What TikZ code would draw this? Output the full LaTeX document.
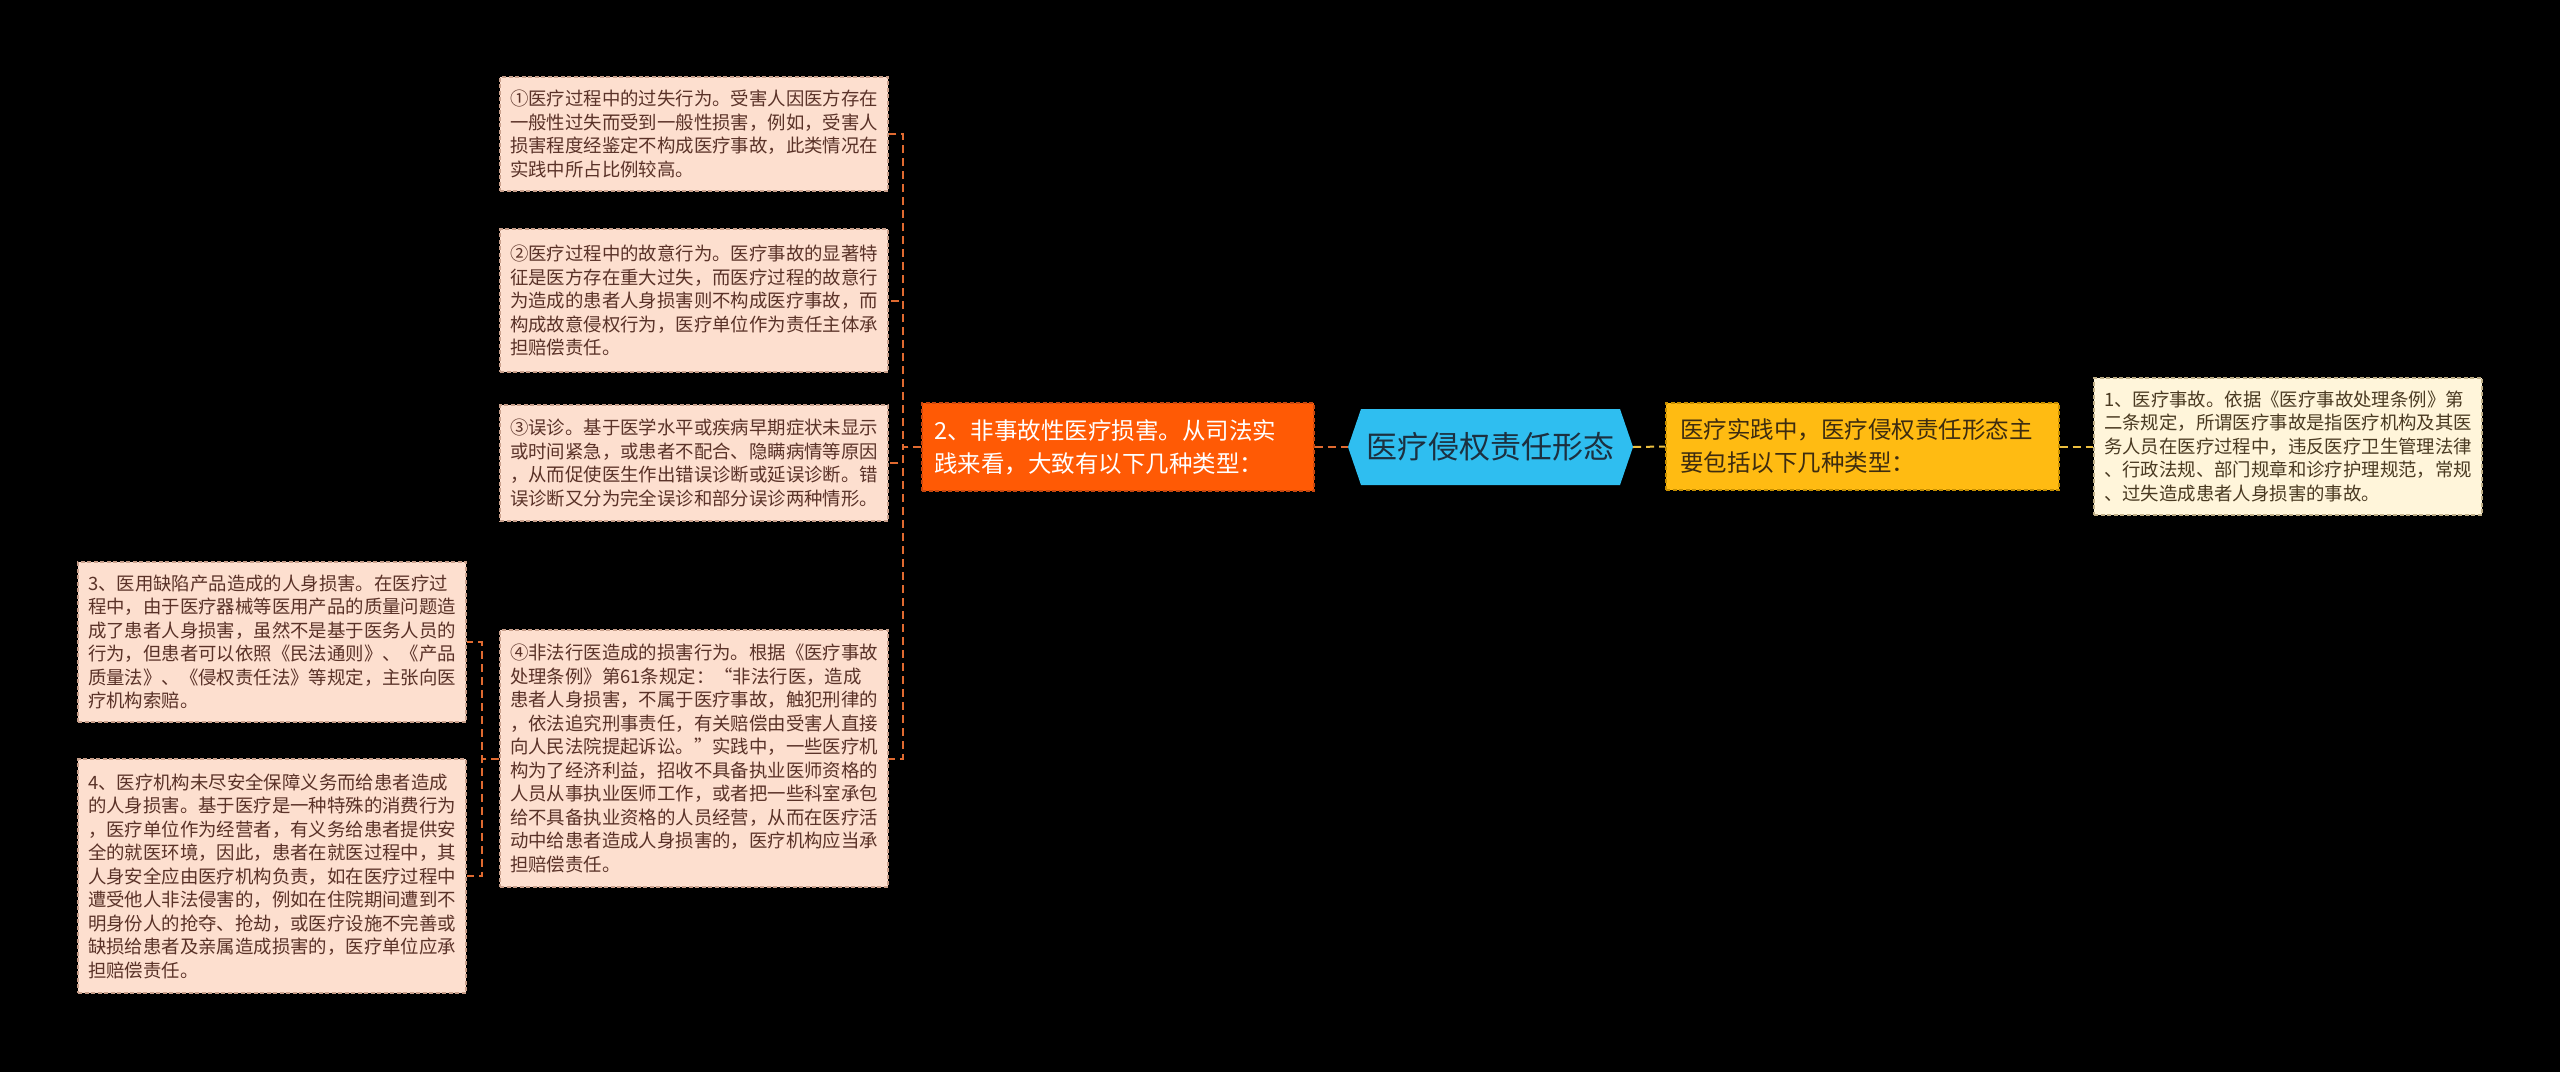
\documentclass[tikz,border=0pt]{standalone}
\usepackage{fontspec}
\setmainfont{Noto Sans CJK SC}
\definecolor{leaffill}{HTML}{FDDFCF}
\definecolor{leafline}{HTML}{C9A08C}
\definecolor{leaftext}{HTML}{5A3228}
\definecolor{orangefill}{HTML}{FF5A05}
\definecolor{orangeline}{HTML}{C84810}
\definecolor{hexfill}{HTML}{2FBEF0}
\definecolor{hextext}{HTML}{1C3040}
\definecolor{yellowfill}{HTML}{FFBB12}
\definecolor{yellowline}{HTML}{C89000}
\definecolor{yellowtext}{HTML}{3D2C10}
\definecolor{creamfill}{HTML}{FFF5DA}
\definecolor{creamline}{HTML}{BFAF88}
\definecolor{creamtext}{HTML}{4A3A22}
\definecolor{oconncol}{HTML}{E06A30}
\definecolor{yconncol}{HTML}{EDC040}
\begin{document}
\begin{tikzpicture}[x=1pt,y=-1pt,
  leaf/.style={draw=leafline, fill=leaffill, dash pattern=on 4pt off 2.5pt, line width=1.3pt,
    text=leaftext, font=\fontsize{18.4}{23.5}\selectfont, align=left, text width=368pt,
    inner xsep=10pt, inner ysep=0pt, minimum width=388pt},
  cream/.style={leaf, draw=creamline, fill=creamfill, text=creamtext},
  orangebox/.style={draw=orangeline, fill=orangefill, dash pattern=on 4pt off 2.5pt, line width=1.3pt,
    text=white, font=\fontsize{23.5}{33}\selectfont, align=left, text width=368pt,
    inner xsep=12pt, inner ysep=0pt, minimum height=88pt},
  yellowbox/.style={draw=yellowline, fill=yellowfill, dash pattern=on 4pt off 2.5pt, line width=1.3pt,
    text=yellowtext, font=\fontsize{23.5}{33}\selectfont, align=left, text width=365pt,
    inner xsep=14pt, inner ysep=0pt, minimum height=87pt},
  hexbox/.style={draw=none, minimum width=285pt, minimum height=76pt, inner sep=0pt,
    text=hextext, font=\fontsize{31}{36}\selectfont,
    path picture={\fill[hexfill] (path picture bounding box.west)
      -- ([xshift=13pt]path picture bounding box.north west)
      -- ([xshift=-13pt]path picture bounding box.north east)
      -- (path picture bounding box.east)
      -- ([xshift=-13pt]path picture bounding box.south east)
      -- ([xshift=13pt]path picture bounding box.south west) -- cycle;}},
  oconn/.style={draw=oconncol, line width=2pt, dash pattern=on 8pt off 5pt},
  yconn/.style={draw=yconncol, line width=2pt, dash pattern=on 8pt off 5pt}
]
\fill[black] (0,0) rectangle (2560,1072);
\useasboundingbox (0,0) rectangle (2560,1072);

% centre and main branches
\node[hexbox] (hex) at (1490.5,447) {医疗侵权责任形态};
\node[orangebox] (orange) at (1118,447) {2、非事故性医疗损害。从司法实\\践来看，大致有以下几种类型：};
\node[yellowbox] (yellow) at (1862.5,446.5) {医疗实践中，医疗侵权责任形态主\\要包括以下几种类型：};

% right leaf
\node[cream, minimum height=137pt] (r1) at (2288,446.5) {1、医疗事故。依据《医疗事故处理条例》第\\二条规定，所谓医疗事故是指医疗机构及其医\\务人员在医疗过程中，违反医疗卫生管理法律\\、行政法规、部门规章和诊疗护理规范，常规\\、过失造成患者人身损害的事故。};

% middle leaves
\node[leaf, minimum height=114pt] (b1) at (694,134) {①医疗过程中的过失行为。受害人因医方存在\\一般性过失而受到一般性损害，例如，受害人\\损害程度经鉴定不构成医疗事故，此类情况在\\实践中所占比例较高。};
\node[leaf, minimum height=143pt] (b2) at (694,300.5) {②医疗过程中的故意行为。医疗事故的显著特\\征是医方存在重大过失，而医疗过程的故意行\\为造成的患者人身损害则不构成医疗事故，而\\构成故意侵权行为，医疗单位作为责任主体承\\担赔偿责任。};
\node[leaf, minimum height=116pt] (b3) at (694,463) {③误诊。基于医学水平或疾病早期症状未显示\\或时间紧急，或患者不配合、隐瞒病情等原因\\，从而促使医生作出错误诊断或延误诊断。错\\误诊断又分为完全误诊和部分误诊两种情形。};
\node[leaf, minimum height=257pt] (b4) at (694,758.5) {④非法行医造成的损害行为。根据《医疗事故\\处理条例》第61条规定：“非法行医，造成\\患者人身损害，不属于医疗事故，触犯刑律的\\，依法追究刑事责任，有关赔偿由受害人直接\\向人民法院提起诉讼。”实践中，一些医疗机\\构为了经济利益，招收不具备执业医师资格的\\人员从事执业医师工作，或者把一些科室承包\\给不具备执业资格的人员经营，从而在医疗活\\动中给患者造成人身损害的，医疗机构应当承\\担赔偿责任。};

% left leaves
\node[leaf, minimum height=160pt] (l3) at (272,642) {3、医用缺陷产品造成的人身损害。在医疗过\\程中，由于医疗器械等医用产品的质量问题造\\成了患者人身损害，虽然不是基于医务人员的\\行为，但患者可以依照《民法通则》、《产品\\质量法》、《侵权责任法》等规定，主张向医\\疗机构索赔。};
\node[leaf, minimum height=234pt] (l4) at (272,876) {4、医疗机构未尽安全保障义务而给患者造成\\的人身损害。基于医疗是一种特殊的消费行为\\，医疗单位作为经营者，有义务给患者提供安\\全的就医环境，因此，患者在就医过程中，其\\人身安全应由医疗机构负责，如在医疗过程中\\遭受他人非法侵害的，例如在住院期间遭到不\\明身份人的抢夺、抢劫，或医疗设施不完善或\\缺损给患者及亲属造成损害的，医疗单位应承\\担赔偿责任。};

% connectors
\draw[oconn] (orange.east) -- (hex.west);
\draw[yconn] (hex.east) -- (yellow.west);
\draw[yconn] (yellow.east) -- (r1.west);
\foreach \b in {b1,b2,b3,b4}
  \draw[oconn] (orange.west) -- ++(-18,0) |- (\b.east);
\foreach \b in {l3,l4}
  \draw[oconn] (b4.west) -- ++(-17,0) |- (\b.east);
\end{tikzpicture}
\end{document}
